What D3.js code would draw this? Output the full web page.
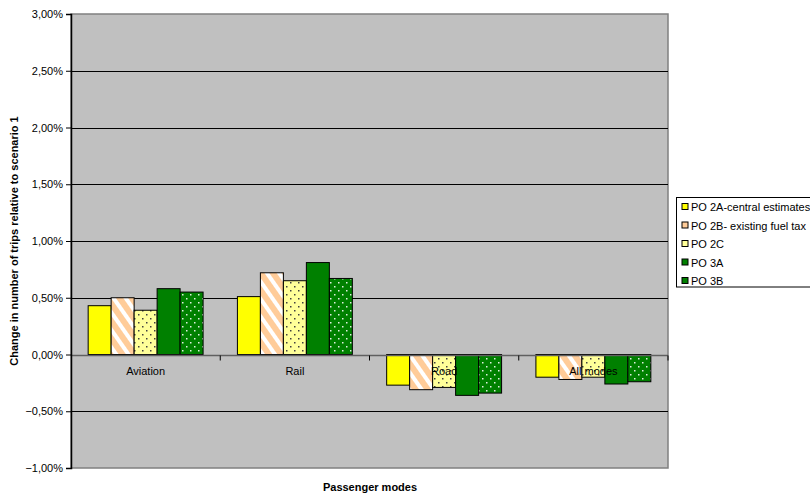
<!DOCTYPE html>
<html><head><meta charset="utf-8">
<script src="https://cdn.jsdelivr.net/npm/d3@7"></script>
<style>body{margin:0;background:#fff;}svg{display:block;font-family:"Liberation Sans",Arial,sans-serif;}</style>
</head><body><svg id="c" width="810" height="495"></svg>
<script>
const categories = ["Aviation", "Rail", "Road", "All modes"];
const seriesNames = ["PO 2A-central estimates", "PO 2B- existing fuel tax", "PO 2C", "PO 3A", "PO 3B"];
const po2A = [0.0043, 0.0051, -0.0027, -0.0020];
const po2B = [0.0050, 0.0072, -0.0031, -0.0022];
const po2C = [0.0039, 0.0065, -0.0029, -0.0020];
const po3A = [0.0058, 0.0081, -0.0036, -0.0026];
const po3B = [0.0055, 0.0067, -0.0034, -0.0024];
const yTicks = [-0.01, -0.005, 0, 0.005, 0.01, 0.015, 0.02, 0.025, 0.03];
const seriesValues = [po2A, po2B, po2C, po3A, po3B];

const svg = d3.select("#c");
const L = 71, R = 668, T = 14, B = 468;
const defs = svg.append("defs");
const p2B = defs.append("pattern").attr("id","p2B").attr("patternUnits","userSpaceOnUse")
  .attr("width",10).attr("height",10).attr("patternTransform","rotate(-35)");
p2B.append("rect").attr("width",10).attr("height",10).attr("fill","#ffcc99");
p2B.append("rect").attr("width",4).attr("height",10).attr("fill","#ffffff");
const p2C = defs.append("pattern").attr("id","p2C").attr("patternUnits","userSpaceOnUse")
  .attr("width",8).attr("height",8);
p2C.append("rect").attr("width",8).attr("height",8).attr("fill","#ffff99");
p2C.append("rect").attr("x",2).attr("y",2).attr("width",1.5).attr("height",1.5).attr("fill","#404040");
p2C.append("rect").attr("x",6).attr("y",6).attr("width",1.5).attr("height",1.5).attr("fill","#404040");
const p3B = defs.append("pattern").attr("id","p3B").attr("patternUnits","userSpaceOnUse")
  .attr("width",8).attr("height",8);
p3B.append("rect").attr("width",8).attr("height",8).attr("fill","#008000");
p3B.append("rect").attr("x",2).attr("y",2).attr("width",1.5).attr("height",1.5).attr("fill","#e0f0e0");
p3B.append("rect").attr("x",6).attr("y",6).attr("width",1.5).attr("height",1.5).attr("fill","#e0f0e0");
const fills = ["#ffff00", "url(#p2B)", "url(#p2C)", "#008000", "url(#p3B)"];
const legendFills = ["#ffff00", "#ffcc99", "#ffff99", "#008000", "#008000"];

const y = d3.scaleLinear().domain([-0.01, 0.03]).range([B, T]);
const x0 = d3.scaleBand().domain(categories).range([L, R]).paddingInner(0.23).paddingOuter(0.115);
const x1 = d3.scaleBand().domain(seriesNames).range([0, x0.bandwidth()]);
const xOuter = d3.scaleBand().domain(categories).range([L, R]);

svg.append("rect").attr("x",L).attr("y",T).attr("width",R-L).attr("height",B-T)
  .attr("fill","#c0c0c0").attr("stroke","#808080").attr("stroke-width",1.5);
svg.append("g").selectAll("line").data(yTicks.filter(d=>d!==0 && d!==-0.01 && d!==0.03)).join("line")
  .attr("x1",L).attr("x2",R).attr("y1",d=>Math.round(y(d))+0.5).attr("y2",d=>Math.round(y(d))+0.5)
  .attr("stroke","#000").attr("stroke-width",1);

const g = svg.append("g");
categories.forEach((c, ci) => {
  seriesNames.forEach((s, si) => {
    const v = seriesValues[si][ci];
    g.append("rect")
      .attr("x", x0(c) + x1(s))
      .attr("y", y(Math.max(0, v)))
      .attr("width", x1.bandwidth())
      .attr("height", Math.abs(y(v) - y(0)))
      .attr("fill", fills[si]).attr("stroke","#000").attr("stroke-width",1);
  });
});

const zy = Math.round(y(0)) + 0.5;
svg.append("line").attr("x1",L).attr("x2",R).attr("y1",zy).attr("y2",zy).attr("stroke","#606060").attr("stroke-width",1.5);
svg.append("g").selectAll("line").data(categories.slice(1).concat(["end"])).join("line")
  .attr("x1",(d,i)=> i<3 ? xOuter(d) : R).attr("x2",(d,i)=> i<3 ? xOuter(d) : R)
  .attr("y1",zy).attr("y2",zy+5).attr("stroke","#000");
svg.append("g").selectAll("text").data(categories).join("text")
  .attr("x",d=>xOuter(d)+xOuter.bandwidth()/2).attr("y",zy+19)
  .attr("text-anchor","middle").attr("font-size",11).attr("fill","#000").text(d=>d);

const yAxis = d3.axisLeft(y).tickValues(yTicks).tickSize(5).tickPadding(3)
  .tickFormat(d => d3.format(".2f")(d*100).replace(".", ",") + "%");
const ya = svg.append("g").attr("transform",`translate(${L},0)`).call(yAxis);
ya.select(".domain").attr("stroke","#000").attr("stroke-width",1.5);
ya.selectAll("text").attr("font-size",11).attr("fill","#000").attr("font-family","Liberation Sans, Arial, sans-serif");
ya.selectAll("line").attr("stroke","#000");

svg.append("text").attr("transform",`translate(18,${(T+B)/2}) rotate(-90)`)
  .attr("text-anchor","middle").attr("font-size",11).attr("font-weight","bold").text("Change in number of trips relative to scenario 1");
svg.append("text").attr("x",370).attr("y",491).attr("text-anchor","middle")
  .attr("font-size",11).attr("font-weight","bold").text("Passenger modes");

const lg = svg.append("g");
lg.append("rect").attr("x",676.5).attr("y",197.5).attr("width",140).attr("height",89.5)
  .attr("fill","#fff").attr("stroke","#000");
seriesNames.forEach((s, i) => {
  const yy = 207 + i*18.5;
  lg.append("rect").attr("x",682).attr("y",yy-3.5).attr("width",6).attr("height",6)
    .attr("fill", legendFills[i]).attr("stroke","#000");
  lg.append("text").attr("x",691).attr("y",yy+4).attr("font-size",11).text(s);
});
</script></body></html>
